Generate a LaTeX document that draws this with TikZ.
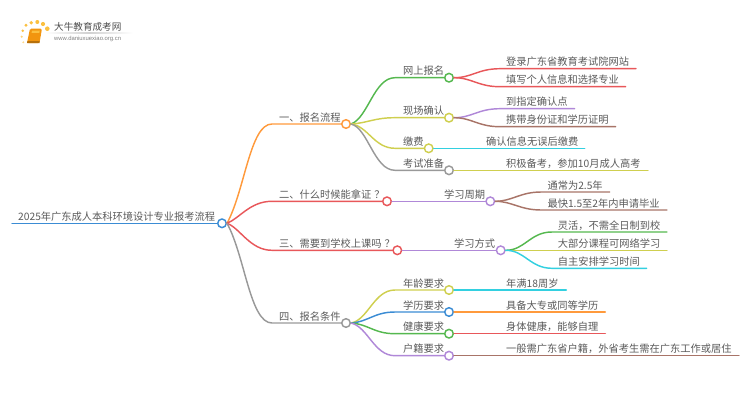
\documentclass[tikz,border=0pt]{standalone}
\usepackage{fontspec}
\setmainfont{Noto Sans CJK SC}
\setsansfont{Liberation Sans}
\usetikzlibrary{shadings}
\definecolor{cblue}{HTML}{3B8CD4}
\definecolor{corange}{HTML}{FF9A3C}
\definecolor{cred}{HTML}{E8575A}
\definecolor{cgray}{HTML}{999999}
\definecolor{cgreen}{HTML}{55B84F}
\definecolor{colive}{HTML}{CFCF4F}
\definecolor{cpurple}{HTML}{B088D8}
\definecolor{cbrown}{HTML}{A87468}
\definecolor{ccyan}{HTML}{33D0E0}
\definecolor{ctext}{HTML}{5A5A5A}
\definecolor{cbook}{HTML}{F2950F}
\definecolor{cspot}{HTML}{FBC040}
\tikzset{
  lnk/.style={line width=1.45pt,line cap=round},
  dot/.style={circle,draw,fill=white,line width=1.45pt,minimum size=8.6pt,inner sep=0pt},
  lbl/.style={anchor=base west,inner sep=0pt,text=ctext,font=\fontsize{10.25pt}{12pt}\selectfont}
}
\begin{document}
\begin{tikzpicture}[x=1pt,y=-1pt]
\useasboundingbox (0,0) rectangle (750,410);

% logo
\fill[cbook,rounded corners=1.5pt] (30,28.5) -- (42,28.5) -- (39.5,43) -- (27,43) -- cycle;
\fill[cspot] (32,30.5) -- (39.8,30.5) -- (39.4,32.8) -- (31.6,32.8) -- cycle;
\fill[cbook!75!black] (27.4,41.2) -- (39.7,41.2) -- (39.5,43) -- (27,43) -- cycle;
\fill[cspot!60!white] (23.3,42.3) circle (1.1pt);
\fill[cspot!70!white] (21.7,36.7) circle (1.2pt);
\fill[cspot] (22.7,30.7) circle (1.4pt);
\fill[cspot] (26,25.3) circle (1.6pt);
\fill[cspot] (31.3,22.7) circle (1.9pt);
\fill[cspot] (37.3,22) circle (2pt);
\fill[cspot] (43,24) circle (2.1pt);
\fill[cspot] (47.3,28.7) circle (2.3pt);
\node[lbl,text=black!70,font=\fontsize{9.6pt}{11pt}\selectfont] (brand) at (54,30.5) {大牛教育成考网};
\node[lbl,text=black!50,font=\sffamily\fontsize{5.9pt}{7pt}\selectfont] (site) at (54,40.6) {www.daniuxuexiao.org.cn};
\shade[left color=white,right color=white,middle color=black!18] (45,32.7) rectangle (133,33.5);

% root
\node[dot,draw=cblue] (root) at (222,223.3) {};
\coordinate (rootstart) at (12,223.3);
\draw[lnk,cblue] (rootstart) -- (root.west);
\node[lbl] (roottext) at (18,220.5) {2025年广东成人本科环境设计专业报考流程};

% first level
\node[dot,draw=corange] (one) at (346,124) {};
\node[dot,draw=cred] (two) at (387,201.3) {};
\node[dot,draw=cred] (three) at (397.3,250.3) {};
\node[dot,draw=cgray] (four) at (346,323) {};
\node[lbl] (onetext) at (279,121) {一、报名流程};
\node[lbl] (twotext) at (279,198.3) {二、什么时候能拿证\hspace{3pt}？};
\node[lbl] (threetext) at (279,247.3) {三、需要到学校上课吗\hspace{3pt}？};
\node[lbl] (fourtext) at (279,320) {四、报名条件};
\draw[lnk,corange] (root.east)..controls (245,190) and (250,124)..(272,124) -- (one.west);
\draw[lnk,cred] (root.east)..controls (240,218) and (250,201.3)..(272,201.3) -- (two.west);
\draw[lnk,cred] (root.east)..controls (240,228) and (250,250.3)..(272,250.3) -- (three.west);
\draw[lnk,cgray] (root.east)..controls (245,256) and (250,323)..(272,323) -- (four.west);

% under one
\node[dot,draw=cgreen] (web) at (449,77.7) {};
\node[dot,draw=colive] (site1) at (449,117.7) {};
\node[dot,draw=colive] (fee) at (428.7,148.3) {};
\node[dot,draw=cgray] (prep) at (449,170.3) {};
\node[lbl] (webtext) at (403,74.7) {网上报名};
\node[lbl] (site1text) at (403,114.7) {现场确认};
\node[lbl] (feetext) at (403,145.3) {缴费};
\node[lbl] (preptext) at (403,167.3) {考试准备};
\draw[lnk,cgreen] (one.east)..controls (368,118) and (374,77.7)..(395,77.7) -- (web.west);
\draw[lnk,colive] (one.east)..controls (368,123) and (374,117.7)..(395,117.7) -- (site1.west);
\draw[lnk,colive] (one.east)..controls (368,126) and (374,148.3)..(395,148.3) -- (fee.west);
\draw[lnk,cgray] (one.east)..controls (368,128) and (374,170.3)..(395,170.3) -- (prep.west);

% leaves of one
\node[lbl] (l1) at (506,65.8) {登录广东省教育考试院网站};
\node[lbl] (l2) at (506,83.8) {填写个人信息和选择专业};
\node[lbl] (l3) at (506,105.8) {到指定确认点};
\node[lbl] (l4) at (506,123.8) {携带身份证和学历证明};
\node[lbl] (l5) at (486,145.4) {确认信息无误后缴费};
\node[lbl] (l6) at (506,167.4) {积极备考，参加10月成人高考};
\coordinate (l1end) at (636,68.7);
\coordinate (l2end) at (625.7,86.7);
\coordinate (l3end) at (574.7,108.7);
\coordinate (l4end) at (615.7,126.7);
\coordinate (l5end) at (584.7,148.3);
\coordinate (l6end) at (648,170.3);
\draw[lnk,cred] (web.east)..controls (472,77.7) and (478,68.7)..(500,68.7) -- (l1end);
\draw[lnk,cred] (web.east)..controls (472,77.7) and (478,86.7)..(500,86.7) -- (l2end);
\draw[lnk,cpurple] (site1.east)..controls (472,117.7) and (478,108.7)..(500,108.7) -- (l3end);
\draw[lnk,cbrown] (site1.east)..controls (472,117.7) and (478,126.7)..(500,126.7) -- (l4end);
\draw[lnk,ccyan] (fee.east) -- (l5end);
\draw[lnk,colive] (prep.east) -- (l6end);

% under two
\node[dot,draw=cpurple] (period) at (490.3,201.3) {};
\node[lbl] (periodtext) at (444,198.3) {学习周期};
\draw[lnk,cpurple] (two.east) -- (period.west);
\node[lbl] (l7) at (547.3,189.1) {通常为2.5年};
\node[lbl] (l8) at (547.3,207.1) {最快1.5至2年内申请毕业};
\coordinate (l7end) at (609.7,192);
\coordinate (l8end) at (667,210);
\draw[lnk,cbrown] (period.east)..controls (512,201.3) and (520,192)..(541,192) -- (l7end);
\draw[lnk,cbrown] (period.east)..controls (512,201.3) and (520,210)..(541,210) -- (l8end);

% under three
\node[dot,draw=cpurple] (mode) at (500.7,250.3) {};
\node[lbl] (modetext) at (454,247.3) {学习方式};
\draw[lnk,cpurple] (three.east) -- (mode.west);
\node[lbl] (l9) at (557.7,229.1) {灵活，不需全日制到校};
\node[lbl] (l10) at (557.7,247.4) {大部分课程可网络学习};
\node[lbl] (l11) at (557.7,265.4) {自主安排学习时间};
\coordinate (l9end) at (667,232);
\coordinate (l10end) at (667,250.3);
\coordinate (l11end) at (646.7,268.3);
\draw[lnk,cgreen] (mode.east)..controls (525,250.3) and (530,232)..(552,232) -- (l9end);
\draw[lnk,colive] (mode.east) -- (l10end);
\draw[lnk,ccyan] (mode.east)..controls (525,250.3) and (530,268.3)..(552,268.3) -- (l11end);

% under four
\node[dot,draw=colive] (age) at (449,290) {};
\node[dot,draw=cblue] (edu) at (449,312) {};
\node[dot,draw=cgreen] (health) at (449,333.7) {};
\node[dot,draw=cpurple] (huji) at (449,355.7) {};
\node[lbl] (agetext) at (403,287) {年龄要求};
\node[lbl] (edutext) at (403,309) {学历要求};
\node[lbl] (healthtext) at (403,330.7) {健康要求};
\node[lbl] (hujitext) at (403,352.7) {户籍要求};
\draw[lnk,colive] (four.east)..controls (368,320) and (374,290)..(395,290) -- (age.west);
\draw[lnk,cblue] (four.east)..controls (368,322) and (374,312)..(395,312) -- (edu.west);
\draw[lnk,cgreen] (four.east)..controls (368,324) and (374,333.7)..(395,333.7) -- (health.west);
\draw[lnk,cpurple] (four.east)..controls (368,327) and (374,355.7)..(395,355.7) -- (huji.west);

% leaves of four
\node[lbl] (l12) at (506,287.1) {年满18周岁};
\node[lbl] (l13) at (506,309.1) {具备大专或同等学历};
\node[lbl] (l14) at (506,330.8) {身体健康，能够自理};
\node[lbl] (l15) at (506,352.8) {一般需广东省户籍，外省考生需在广东工作或居住};
\coordinate (l12end) at (566.3,290);
\coordinate (l13end) at (605.3,312);
\coordinate (l14end) at (605.3,333.7);
\coordinate (l15end) at (739,355.7);
\draw[lnk,ccyan] (age.east) -- (l12end);
\draw[lnk,corange] (edu.east) -- (l13end);
\draw[lnk,cred] (health.east) -- (l14end);
\draw[lnk,cbrown] (huji.east) -- (l15end);

\end{tikzpicture}
\end{document}
